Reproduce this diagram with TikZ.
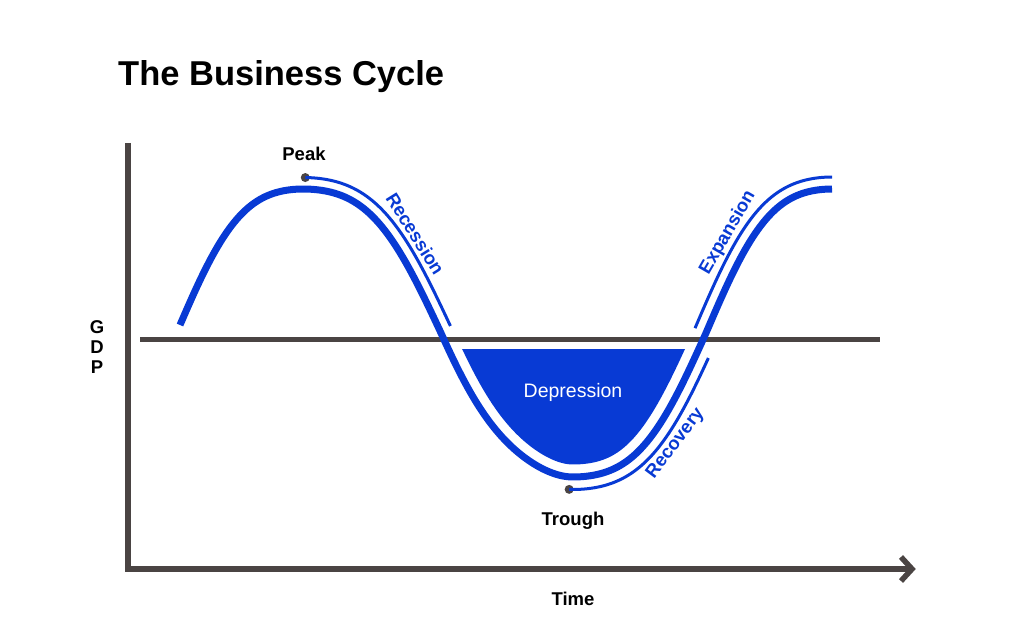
\documentclass[tikz,border=0pt]{standalone}
\usepackage{fontspec}
\setmainfont{Liberation Sans}
\definecolor{cblue}{RGB}{8,58,212}
\definecolor{axisgray}{RGB}{74,68,67}
\begin{document}
\begin{tikzpicture}[x=1pt,y=-1pt,
  declare function={
    phs(\t)=ifthenelse(\t<303,(\t-303)*0.7118,ifthenelse(\t<441,(\t-303)*0.65217,ifthenelse(\t<573,90+(\t-441)*0.68182,ifthenelse(\t<706,180+(\t-573)*0.67669,270+(\t-706)*0.71429))));
    bb(\u)=0.07-(\u>90)*(\u<180)*0.07*(\u-90)/90;
    gg(\u)=(cos(\u)-bb(\u)*cos(3*\u))/(1-bb(\u));
    ff(\t)=333-144*gg(phs(\t));
    dd(\t)=ff(\t+0.5)-ff(\t-0.5);
    ox(\t,\d)=\t+\d*dd(\t)/sqrt(1+dd(\t)^2);
    oy(\t,\d)=ff(\t)-\d/sqrt(1+dd(\t)^2);
  },
  axisline/.style={draw=axisgray,line width=5.5pt},
  maincurve/.style={draw=cblue,line width=7pt},
  thincurve/.style={draw=cblue,line width=3pt},
  dot/.style={circle,fill=axisgray,inner sep=0pt,minimum size=9pt},
  lbl/.style={inner sep=0pt,font=\bfseries\fontsize{18.5}{20}\selectfont},
  phase/.style={inner sep=0pt,text=cblue,font=\bfseries\fontsize{18.5}{20}\selectfont},
]
\useasboundingbox (0,0) rectangle (1024,628);

% title
\node[anchor=base west,inner sep=0pt,font=\bfseries\fontsize{34.5}{40}\selectfont] (title) at (118,86) {The Business Cycle};

% axes
\coordinate (ytop) at (128,143);
\coordinate (origin) at (128,569);
\coordinate (xend) at (912,569);
\coordinate (b1) at (140,339);
\coordinate (b2) at (880,339);
\draw[axisline] (ytop) -- (origin) -- (xend);
\draw[axisline,line join=miter] ([shift={(-11,-12)}]xend) -- (xend) -- ([shift={(-11,12)}]xend);
\draw[axisline,line width=5pt] (b1) -- (b2);

% depression fill
\begin{scope}
\clip (0,349) rectangle (1024,628);
\fill[cblue] plot[domain=425:725,samples=200] ({ox(\x,12.5)},{oy(\x,12.5)}) -- cycle;
\end{scope}
\node[inner sep=0pt,text=white,font=\fontsize{19.5}{22}\selectfont] (dep) at (573,392) {Depression};

% main curve
\draw[maincurve] plot[domain=180:832,samples=300] (\x,{ff(\x)});

% thin phase lines
\node[dot] (peakdot) at ({ox(305,11.5)},{oy(305,11.5)}) {};
\node[dot] (troughdot) at ({ox(570,-12.5)},{oy(570,-12.5)}) {};
\draw[thincurve] plot[domain=305:440,samples=70] ({ox(\x,11.5)},{oy(\x,11.5)});
\draw[thincurve] plot[domain=570:697,samples=70] ({ox(\x,-12.5)},{oy(\x,-12.5)});
\draw[thincurve] plot[domain=706:832,samples=70] ({ox(\x,12)},{oy(\x,12)});

% labels
\node[lbl,anchor=base] (peak) at (304,161) {Peak};
\node[lbl,anchor=base] (trough) at (573,525) {Trough};
\node[lbl,anchor=base] (time) at (573,605) {Time};
\node[lbl,anchor=base,align=center] (gdp) at (97,373) {G\\D\\P};

\node[phase,rotate=-58] (recession) at ({ox(396,23)},{oy(396,23)}) {Recession};
\node[phase,rotate=60] (expansion) at ({ox(748,23.5)},{oy(748,23.5)}) {Expansion};
\node[phase,rotate=53] (recovery) at ({ox(656,-24)},{oy(656,-24)}) {Recovery};
\end{tikzpicture}
\end{document}
